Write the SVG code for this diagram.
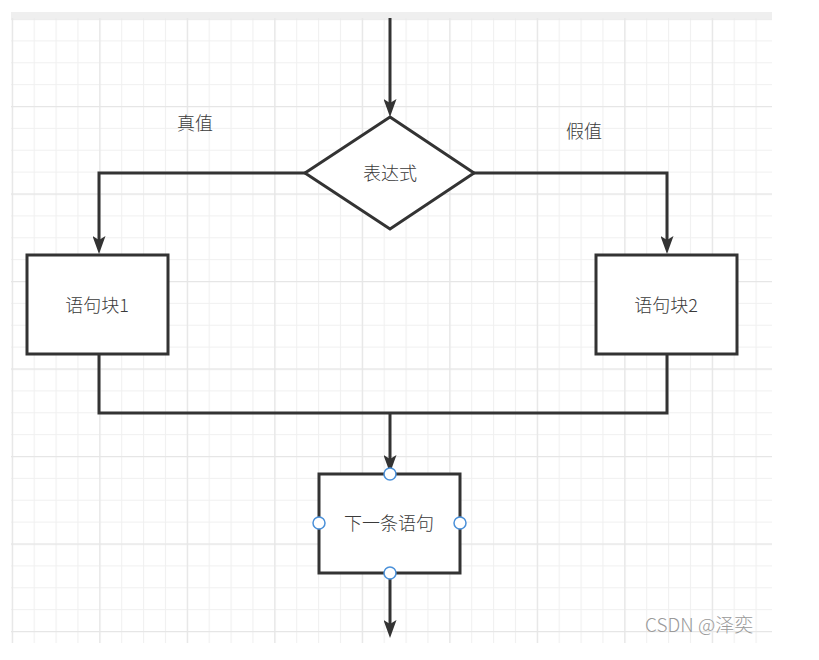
<svg xmlns="http://www.w3.org/2000/svg" width="819" height="660" viewBox="0 0 819 660">
  <style>
    .node { fill: #ffffff; stroke: #333333; stroke-width: 3; }
    .conn { fill: none; stroke: #333333; stroke-width: 3; }
    .lbl { font-family: "Noto Sans CJK SC", "Noto Sans", sans-serif; font-size: 18px; font-weight: 300; fill: #3a3a3a; text-anchor: middle; }
    .handle { fill: #ffffff; stroke: #4a90d9; stroke-width: 1.5; }
    .wm { font-family: "Noto Sans CJK SC", "Noto Sans", sans-serif; font-size: 19px; font-weight: 300; fill: #9a9a9a; }
  </style>
  <defs>
    <pattern id="minor" patternUnits="userSpaceOnUse" x="11.8" y="18.5" width="21.875" height="21.875">
      <path d="M0.5,0 V21.875 M0,0.5 H21.875" fill="none" stroke="#f0f0f0" stroke-width="1.2"/>
    </pattern>
    <pattern id="major" patternUnits="userSpaceOnUse" x="11.8" y="18.5" width="87.5" height="87.5">
      <path d="M0.5,0 V87.5 M0,0.5 H87.5" fill="none" stroke="#e6e6e6" stroke-width="1.4"/>
    </pattern>
    <marker id="arrow" markerUnits="userSpaceOnUse" markerWidth="18" markerHeight="13" refX="4" refY="6.5" orient="auto">
      <path d="M0,0 L18,6.5 L0,13 L4,6.5 Z" fill="#333333"/>
    </marker>
  </defs>

  <rect x="0" y="0" width="819" height="660" fill="#ffffff"/>
  <g id="grid">
    <rect x="11" y="18" width="761" height="625" fill="url(#minor)"/>
    <rect x="11" y="18" width="761" height="625" fill="url(#major)"/>
    <rect x="11" y="12" width="761" height="6" fill="#efefef"/>
  </g>

  <g id="connectors">
    <path class="conn" d="M390,18 V103" marker-end="url(#arrow)"/>
    <path class="conn" d="M305,173 H99 V240" marker-end="url(#arrow)"/>
    <path class="conn" d="M474,173 H667 V240" marker-end="url(#arrow)"/>
    <path class="conn" d="M99,354 V413 H667 V354"/>
    <path class="conn" d="M390,413 V459" marker-end="url(#arrow)"/>
    <path class="conn" d="M390,573 V624" marker-end="url(#arrow)"/>
  </g>

  <g id="label-true">
    <text class="lbl" x="195" y="130">真值</text>
  </g>
  <g id="label-false">
    <text class="lbl" x="584" y="138">假值</text>
  </g>

  <g id="decision">
    <polygon class="node" points="390,117 474,173 390,229 305,173"/>
    <text class="lbl" x="390" y="180">表达式</text>
  </g>

  <g id="block1">
    <rect class="node" x="27" y="255" width="141" height="99"/>
    <text class="lbl" x="97" y="312">语句块1</text>
  </g>

  <g id="block2">
    <rect class="node" x="596" y="255" width="141" height="99"/>
    <text class="lbl" x="666" y="312">语句块2</text>
  </g>

  <g id="next">
    <rect class="node" x="319" y="474" width="141" height="99"/>
    <text class="lbl" x="389" y="530">下一条语句</text>
    <circle class="handle" cx="390" cy="474" r="6"/>
    <circle class="handle" cx="319" cy="523" r="6"/>
    <circle class="handle" cx="460" cy="523" r="6"/>
    <circle class="handle" cx="390" cy="573" r="6"/>
  </g>

  <text class="wm" x="645" y="632">CSDN @泽奕</text>
</svg>
